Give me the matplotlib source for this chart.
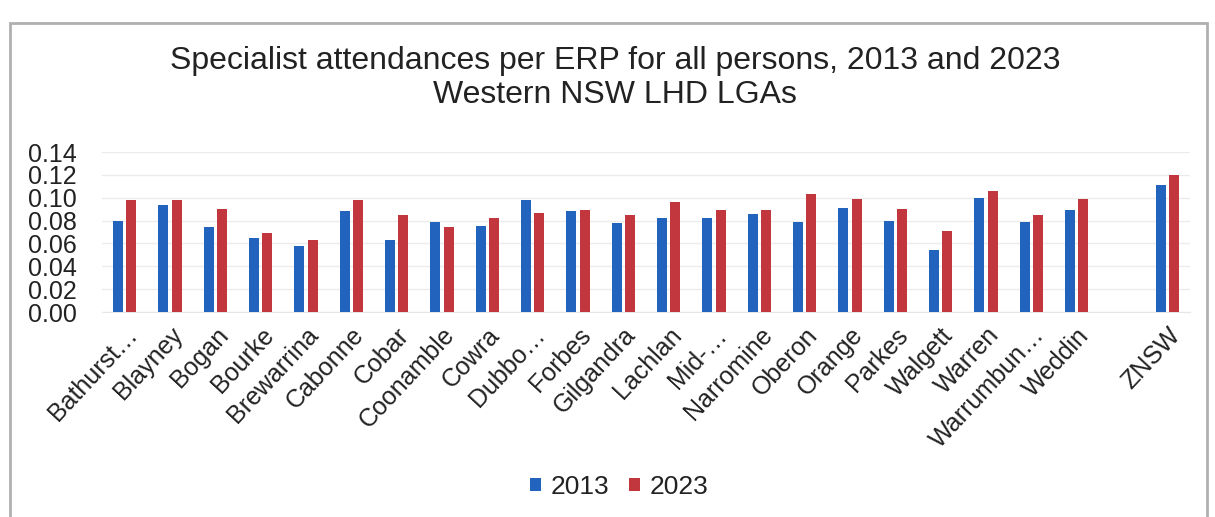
import matplotlib
matplotlib.use("Agg")
import matplotlib.pyplot as plt
from matplotlib.patches import Rectangle
import numpy as np

plt.rcParams['font.family'] = ['Liberation Sans', 'DejaVu Sans']

# Local government areas of Western NSW LHD, with the NSW total last
lgas = ["Bathurst…", "Blayney", "Bogan", "Bourke", "Brewarrina", "Cabonne",
        "Cobar", "Coonamble", "Cowra", "Dubbo…", "Forbes", "Gilgandra",
        "Lachlan", "Mid-…", "Narromine", "Oberon", "Orange", "Parkes",
        "Walgett", "Warren", "Warrumbun…", "Weddin", "ZNSW"]

# Specialist attendances per estimated resident population
att_2013 = [0.080, 0.094, 0.074, 0.065, 0.058, 0.088, 0.063, 0.079, 0.075,
            0.098, 0.088, 0.078, 0.082, 0.082, 0.086, 0.079, 0.091, 0.080,
            0.054, 0.100, 0.079, 0.089, 0.111]
att_2023 = [0.098, 0.098, 0.090, 0.069, 0.063, 0.098, 0.085, 0.074, 0.082,
            0.087, 0.089, 0.085, 0.096, 0.089, 0.089, 0.103, 0.099, 0.090,
            0.071, 0.106, 0.085, 0.099, 0.120]

yticks = [0.00, 0.02, 0.04, 0.06, 0.08, 0.10, 0.12, 0.14]

BLUE = "#2163bd"
RED = "#c1373d"
TXT = "#222222"

W, H = 1215, 517
fig = plt.figure(figsize=(W / 100, H / 100), dpi=100)
fig.patch.set_facecolor("white")

# Chart-area frame
fig.add_artist(Rectangle((10 / W, -0.05), (1207 - 10) / W, 1.05 - 23 / H,
                         transform=fig.transFigure, fill=False,
                         edgecolor="#b0b0b0", linewidth=2.0))

ax = fig.add_axes([102 / W, 1 - 312 / H, (1190 - 102) / W, (312 - 152) / H])

# The NSW total sits one empty slot after the last LGA
pos = np.array(list(range(len(lgas) - 1)) + [len(lgas)], dtype=float)
bw = 0.22
off = 0.15
ax.bar(pos - off, att_2013, width=bw, color=BLUE, label="2013", zorder=3)
ax.bar(pos + off, att_2023, width=bw, color=RED, label="2023", zorder=3)

ax.set_xlim(-0.5, len(lgas) + 0.5)
ax.set_ylim(0, 0.14)
ax.set_yticks(yticks)
ax.set_yticklabels([f"{t:.2f}" for t in yticks], fontsize=18, color=TXT)
ax.tick_params(axis="y", length=0, pad=18)
ax.set_xticks(pos)
ax.set_xticklabels(lgas, rotation=47, ha="right", va="top",
                   rotation_mode="anchor", fontsize=18, color=TXT)
ax.tick_params(axis="x", length=0, pad=8)

ax.grid(axis="y", color="#ececec", linewidth=1.0, zorder=0)
for s in ["top", "right", "left"]:
    ax.spines[s].set_visible(False)
ax.spines["bottom"].set_color("#e6e6e6")

fig.text(615 / W, 1 - 61 / H,
         "Specialist attendances per ERP for all persons, 2013 and 2023",
         ha="center", va="center", fontsize=23, color=TXT)
fig.text(615 / W, 1 - 95 / H, "Western NSW LHD LGAs",
         ha="center", va="center", fontsize=23, color=TXT)

fig.legend(loc="center", bbox_to_anchor=(619 / W, 1 - 487 / H), ncol=2,
           frameon=False, fontsize=19, handlelength=0.42, handleheight=0.42,
           handletextpad=0.35, columnspacing=0.75, labelcolor=TXT)

fig.savefig("out.png", dpi=100, facecolor="white")
